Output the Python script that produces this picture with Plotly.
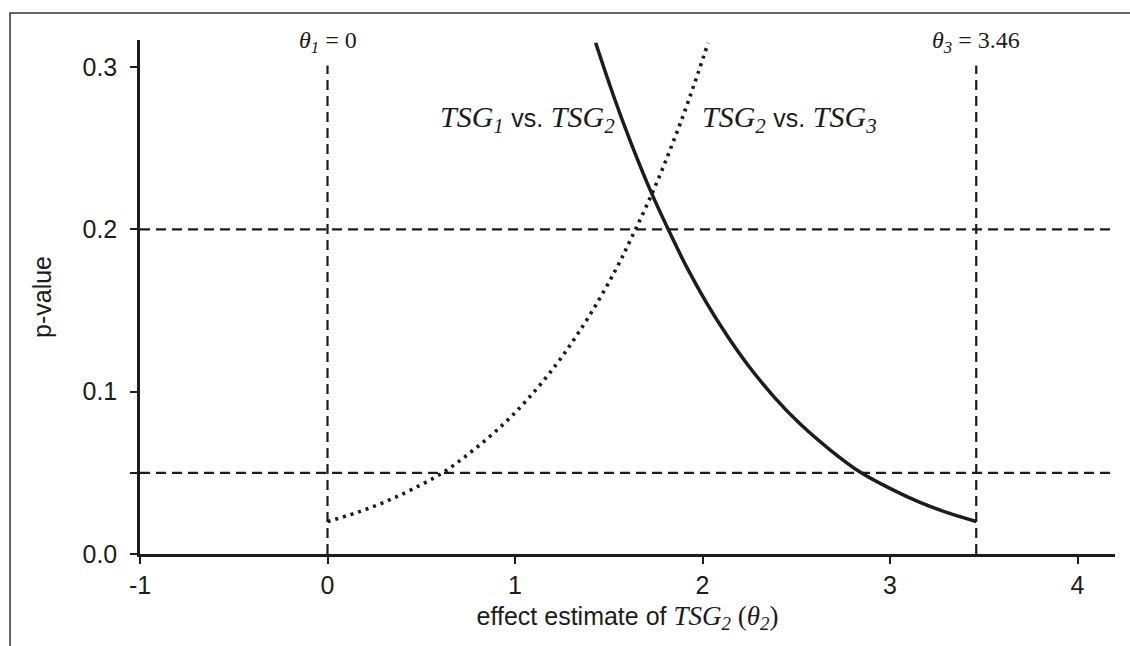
import plotly.graph_objects as go

# ---- data ----
dotted_x = [0.00, 0.15, 0.30, 0.45, 0.62, 0.78, 0.94, 1.08, 1.22, 1.33, 1.44, 1.54, 1.62, 1.74, 1.84, 1.93, 2.03]
dotted_p = [0.0200, 0.0253, 0.0318, 0.0398, 0.0505, 0.0642, 0.0802, 0.0970, 0.1168, 0.1348, 0.1551, 0.1758, 0.1945, 0.2245, 0.2528, 0.2808, 0.3150]

solid_x = [1.43, 1.53, 1.62, 1.72, 1.84, 1.92, 2.02, 2.13, 2.24, 2.38, 2.52, 2.68, 2.84, 3.01, 3.16, 3.31, 3.46]
solid_p = [0.3150, 0.2808, 0.2528, 0.2245, 0.1945, 0.1758, 0.1551, 0.1348, 0.1168, 0.0970, 0.0802, 0.0642, 0.0505, 0.0398, 0.0318, 0.0253, 0.0200]

theta_lines = [0.0, 3.46]
theta_labels = ["<i>θ</i><sub><i>1</i></sub> = 0", "<i>θ</i><sub><i>3</i></sub> = 3.46"]
p_lines = [0.2, 0.05]

x_ticks = [-1, 0, 1, 2, 3, 4]
y_ticks = [0.0, 0.05, 0.1, 0.2, 0.3]
y_ticktext = ["0.0", "", "0.1", "0.2", "0.3"]

curve_label_x = [1.068, 2.462]
curve_label_text = [
    "<i>TSG</i><sub><i>1</i></sub> <span style='font-family:Liberation Sans;font-size:25px'>vs.</span> <i>TSG</i><sub><i>2</i></sub>",
    "<i>TSG</i><sub><i>2</i></sub> <span style='font-family:Liberation Sans;font-size:25px'>vs.</span> <i>TSG</i><sub><i>3</i></sub>",
]

INK = "#1c1c1c"
SANS = "Liberation Sans, Arial, sans-serif"
SERIF = "Liberation Serif, Times New Roman, serif"

fig = go.Figure()

# reference lines
for xv in theta_lines:
    fig.add_shape(type="line", x0=xv, x1=xv, y0=0, y1=0.301, xref="x", yref="y",
                  line=dict(color=INK, width=2.2, dash="10px,6px"), layer="below")
for yv in p_lines:
    fig.add_shape(type="line", x0=-1, x1=4.2, y0=yv, y1=yv, xref="x", yref="y",
                  line=dict(color=INK, width=2.2, dash="10px,6px"), layer="below")

fig.add_trace(go.Scatter(x=dotted_x, y=dotted_p, mode="lines",
                         line=dict(color=INK, width=3.6, dash="3px,5px", shape="spline", smoothing=1),
                         showlegend=False, hoverinfo="skip"))
fig.add_trace(go.Scatter(x=solid_x, y=solid_p, mode="lines",
                         line=dict(color=INK, width=3.5, shape="spline", smoothing=1),
                         showlegend=False, hoverinfo="skip"))

for xv, txt in zip(theta_lines, theta_labels):
    fig.add_annotation(x=xv, y=0.3153, xref="x", yref="y", text=txt, showarrow=False,
                       xanchor="center", yanchor="middle",
                       font=dict(family=SERIF, size=24, color=INK))

for xv, txt in zip(curve_label_x, curve_label_text):
    fig.add_annotation(x=xv, y=0.268, xref="x", yref="y", text=txt, showarrow=False,
                       xanchor="center", yanchor="middle",
                       font=dict(family=SERIF, size=30, color=INK))

# outer frame (cropped on the right and bottom)
fig.add_shape(type="rect", xref="paper", yref="paper",
              x0=-0.1333, x1=1.2, y0=-0.3, y1=1.0525,
              line=dict(color="#333333", width=1.5))

fig.update_layout(
    width=1130, height=646,
    margin=dict(l=140, r=15, t=40, b=92),
    paper_bgcolor="white", plot_bgcolor="white",
    font=dict(family=SANS, size=25, color=INK),
    xaxis=dict(range=[-1, 4.2], tickvals=x_ticks, ticktext=[str(v) for v in x_ticks],
               showgrid=False, zeroline=False, showline=True, linecolor=INK, linewidth=2.5,
               ticks="outside", ticklen=7, tickwidth=2, tickcolor=INK,
               tickfont=dict(family=SANS, size=25, color=INK),
               title=dict(text="effect estimate of <span style='font-family:Liberation Serif;font-size:27px'><i>TSG</i><sub><i>2</i></sub> (<i>θ</i><sub><i>2</i></sub>)</span>",
                          font=dict(family=SANS, size=25, color=INK), standoff=10)),
    yaxis=dict(range=[0, 0.3167], tickvals=y_ticks, ticktext=y_ticktext,
               showgrid=False, zeroline=False, showline=True, linecolor=INK, linewidth=2.5,
               ticks="outside", ticklen=7, tickwidth=2, tickcolor=INK, ticklabelstandoff=8,
               tickfont=dict(family=SANS, size=25, color=INK),
               title=dict(text="p-value", font=dict(family=SANS, size=25, color=INK), standoff=24)),
)

fig.write_html("out.html")
